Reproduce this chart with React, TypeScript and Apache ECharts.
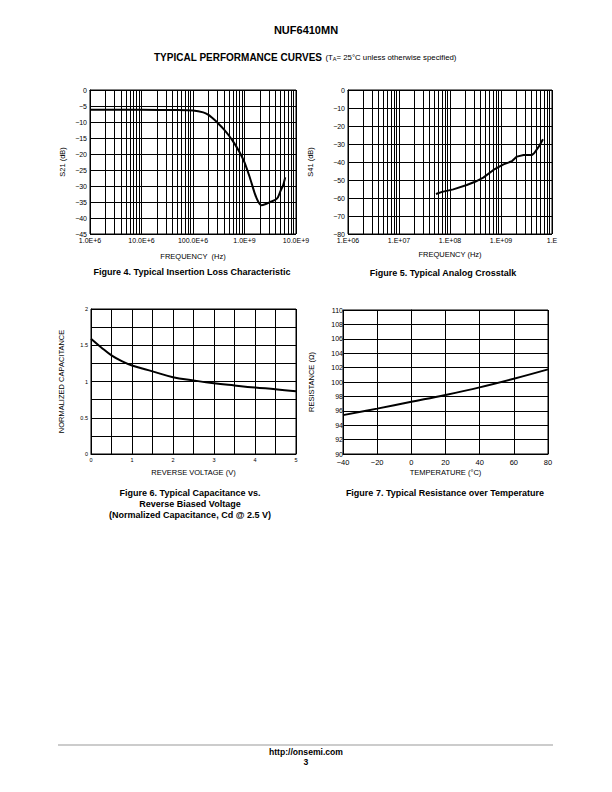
import React, { useEffect, useRef } from "react";
import * as echarts from "echarts";

const FONT = '"Liberation Sans", Arial, Helvetica, sans-serif';

// Figure 4 – insertion loss
const fig4Freq = [1e6, 1e7, 5e7, 1e8, 1.58e8, 2e8, 2.51e8, 3.16e8, 3.98e8, 5.01e8, 6.31e8, 7.94e8, 1e9, 1.26e9, 1.58e9, 1.86e9, 2.14e9, 2.51e9, 3.16e9, 3.98e9, 4.47e9, 5.01e9, 5.62e9, 6.17e9];
const fig4S21 = [-6.2, -6.2, -6.25, -6.4, -7.0, -7.8, -9.1, -10.6, -12.3, -14.3, -16.6, -19.3, -22.6, -27.2, -32.3, -35.0, -36.0, -35.7, -35.0, -34.3, -33.5, -31.5, -29.8, -27.3];
const fig4TickLabels: Record<string, string> = { "1000000": "1.0E+6", "10000000": "10.0E+6", "100000000": "100.0E+6", "1000000000": "1.0E+9", "10000000000": "10.0E+9" };

// Figure 5 – crosstalk
const fig5Freq = [5.3e7, 7e7, 1.16e8, 2.13e8, 3.1e8, 4.5e8, 7.1e8, 1.12e9, 1.63e9, 2.05e9, 2.77e9, 4.05e9, 4.5e9, 5.5e9, 6.65e9];
const fig5S41 = [-57.8, -56.6, -55.2, -52.8, -51, -48.7, -44.4, -41.3, -39.6, -37, -36.1, -36.1, -35, -31.5, -27.4];
const fig5TickLabels: Record<string, string> = { "1000000": "1.E+06", "10000000": "1.E+07", "100000000": "1.E+08", "1000000000": "1.E+09", "10000000000": "1.E" };

// Figure 6 – capacitance vs voltage
const fig6Volt = [0, 0.25, 0.5, 0.75, 1, 1.5, 2, 2.5, 3, 3.5, 4, 4.5, 5];
const fig6Cap = [1.59, 1.47, 1.36, 1.28, 1.22, 1.14, 1.06, 1.015, 0.975, 0.945, 0.917, 0.894, 0.866];

// Figure 7 – resistance vs temperature
const fig7Temp = [-40, -20, 0, 20, 40, 60, 80];
const fig7Res = [95.4, 96.3, 97.25, 98.2, 99.25, 100.45, 101.75];

const minorDecades = [1e6, 1e7, 1e8, 1e9];
const minorMultipliers = [2, 3, 4, 5, 6, 7, 8, 9];

const minus = (v: number | string) => String(v).replace("-", "\u2212");

function App() {
  const ref = useRef<HTMLDivElement>(null);
  useEffect(() => {
    if (!ref.current) return;
    const chart = echarts.init(ref.current, null, { renderer: "svg" });
    const minorFreqs: number[] = [];
    minorDecades.forEach((d) => minorMultipliers.forEach((m) => minorFreqs.push(d * m)));

    const gridBase = { show: true, borderColor: "#000", borderWidth: 1, backgroundColor: "transparent", containLabel: false };
    const grids = [
      { ...gridBase, left: 90, top: 90, width: 206, height: 144 },
      { ...gridBase, left: 348, top: 90, width: 204, height: 144 },
      { ...gridBase, left: 91, top: 309, width: 205, height: 145 },
      { ...gridBase, left: 343, top: 310, width: 205, height: 144 },
    ];
    const axisCommon = {
      axisLine: { show: true, lineStyle: { color: "#000", width: 1 } },
      axisTick: { show: false },
      splitLine: { show: true, lineStyle: { color: "#000", width: 1 } },
      nameLocation: "middle",
      nameTextStyle: { fontFamily: FONT, fontSize: 7.5, color: "#000" },
    };
    const lbl = (size: number, margin: number, extra: any = {}) => ({ fontFamily: FONT, fontSize: size, color: "#000", margin, ...extra });

    const xAxes = [
      {
        ...axisCommon, gridIndex: 0, type: "log", logBase: 10, min: 1e6, max: 1e10, interval: 1,
        name: "FREQUENCY  (Hz)", nameGap: 18,
        axisLabel: lbl(7, 3, { formatter: (v: number) => fig4TickLabels[String(Math.round(v))] ?? "" }),
      },
      {
        ...axisCommon, gridIndex: 1, type: "log", logBase: 10, min: 1e6, max: 1e10, interval: 1,
        name: "FREQUENCY (Hz)", nameGap: 16,
        axisLabel: lbl(7, 3, { formatter: (v: number) => fig5TickLabels[String(Math.round(v))] ?? "" }),
      },
      {
        ...axisCommon, gridIndex: 2, type: "value", min: 0, max: 5, interval: 0.5,
        name: "REVERSE VOLTAGE (V)", nameGap: 14,
        axisLabel: lbl(5.5, 3, { formatter: (v: number) => (Math.abs(v - Math.round(v)) < 1e-6 ? String(Math.round(v)) : "") }),
      },
      {
        ...axisCommon, gridIndex: 3, type: "value", min: -40, max: 80, interval: 20,
        name: "TEMPERATURE (\u00B0C)", nameGap: 14,
        axisLabel: lbl(7.5, 4, { formatter: (v: number) => minus(v) }),
      },
    ];
    const yAxes = [
      {
        ...axisCommon, gridIndex: 0, type: "value", min: -45, max: 0, interval: 5,
        name: "S21 (dB)", nameGap: 24,
        axisLabel: lbl(7, 3, { formatter: (v: number) => minus(v) }),
      },
      {
        ...axisCommon, gridIndex: 1, type: "value", min: -80, max: 0, interval: 10,
        name: "S41 (dB)", nameGap: 34,
        axisLabel: lbl(7, 3, { formatter: (v: number) => minus(v) }),
      },
      {
        ...axisCommon, gridIndex: 2, type: "value", min: 0, max: 2, interval: 0.25,
        name: "NORMALIZED CAPACITANCE", nameGap: 26,
        axisLabel: lbl(5.5, 3, { formatter: (v: number) => (Math.abs(v * 2 - Math.round(v * 2)) < 1e-6 ? String(v) : "") }),
      },
      {
        ...axisCommon, gridIndex: 3, type: "value", min: 90, max: 110, interval: 2,
        name: "RESISTANCE (\u03A9)", nameGap: 28,
        axisLabel: lbl(7, 0, { formatter: (v: number) => String(v), padding: [0, 0, 2, 0] }),
      },
    ];

    const minorLines = {
      silent: true,
      symbol: "none",
      label: { show: false },
      lineStyle: { color: "#000", width: 1, type: "solid" },
      data: minorFreqs.map((v) => ({ xAxis: v })),
    };
    const curve = { type: "line", showSymbol: false, symbol: "none", lineStyle: { color: "#000", width: 2 } };

    const series = [
      { ...curve, xAxisIndex: 0, yAxisIndex: 0, smooth: 0.2, data: fig4Freq.map((f, i) => [f, fig4S21[i]]), markLine: minorLines },
      { ...curve, xAxisIndex: 1, yAxisIndex: 1, data: fig5Freq.map((f, i) => [f, fig5S41[i]]), markLine: minorLines },
      { ...curve, xAxisIndex: 2, yAxisIndex: 2, smooth: 0.4, data: fig6Volt.map((v, i) => [v, fig6Cap[i]]) },
      { ...curve, xAxisIndex: 3, yAxisIndex: 3, smooth: 0.4, data: fig7Temp.map((t, i) => [t, fig7Res[i]]) },
    ];

    const txt = (text: string, x: number, y: number, size: number, bold = true, extra: any = {}) => ({
      type: "text", x, y, silent: true,
      style: { text, fontFamily: FONT, fontSize: size, fontWeight: bold ? "bold" : "normal", fill: "#000", align: "center", verticalAlign: "middle", ...extra },
    });

    const graphic = [
      txt("NUF6410MN", 306, 30, 11),
      {
        type: "text", x: 154, y: 57, silent: true,
        style: {
          text: "{b|TYPICAL PERFORMANCE CURVES} {s|(T}{sub|A}{s|= 25\u00B0C unless otherwise specified)}",
          fontFamily: FONT, fill: "#000", align: "left", verticalAlign: "middle",
          rich: {
            b: { fontFamily: FONT, fontSize: 10, fontWeight: "bold", fill: "#000" },
            s: { fontFamily: FONT, fontSize: 7.8, fill: "#000" },
            sub: { fontFamily: FONT, fontSize: 5.5, fill: "#000", padding: [4, 0, 0, 0] },
          },
        },
      },
      txt("Figure 4. Typical Insertion Loss Characteristic", 192, 272, 9),
      txt("Figure 5. Typical Analog Crosstalk", 443, 273, 9),
      txt("Figure 6. Typical Capacitance vs.", 190, 493, 9),
      txt("Reverse Biased Voltage", 190, 504, 9),
      txt("(Normalized Capacitance, Cd @ 2.5 V)", 190, 515, 9),
      txt("Figure 7. Typical Resistance over Temperature", 445, 493, 9),
      { type: "line", silent: true, shape: { x1: 58, y1: 745, x2: 553, y2: 745 }, style: { stroke: "#999", lineWidth: 1 } },
      txt("http://onsemi.com", 306, 752, 8.6),
      txt("3", 306, 762, 8.6),
    ];

    chart.setOption({
      animation: false,
      backgroundColor: "#fff",
      grid: grids,
      xAxis: xAxes,
      yAxis: yAxes,
      series,
      graphic,
    } as any);
    return () => chart.dispose();
  }, []);
  return <div ref={ref} style={{ position: "absolute", left: 0, top: 0, width: 612, height: 792 }} />;
}

export default App;
